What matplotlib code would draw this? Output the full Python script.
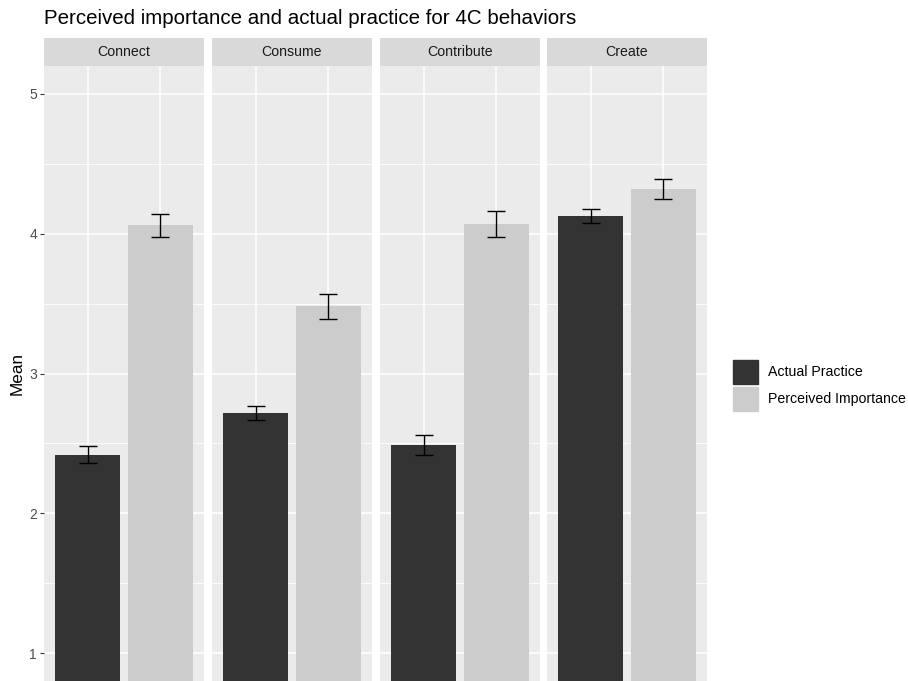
import numpy as np
import matplotlib.pyplot as plt

plt.rcParams['font.family'] = ['Liberation Sans', 'DejaVu Sans']

behaviors = ["Connect", "Consume", "Contribute", "Create"]
groups = ["Actual Practice", "Perceived Importance"]
practice_mean = [2.42, 2.72, 2.49, 4.13]
practice_se = [0.06, 0.05, 0.07, 0.05]
importance_mean = [4.06, 3.48, 4.07, 4.32]
importance_se = [0.08, 0.09, 0.09, 0.075]

colors = ["#333333", "#CCCCCC"]
W, H = 908, 681
fig = plt.figure(figsize=(W / 100, H / 100), dpi=100)

panel_left = [44, 212, 380, 547]
panel_w = 160
panel_top, panel_bottom = 66, 681
strip_top = 38

for i, name in enumerate(behaviors):
    x0 = panel_left[i]
    ax = fig.add_axes([x0 / W, 1 - panel_bottom / H, panel_w / W, (panel_bottom - panel_top) / H])
    ax.set_facecolor("#EBEBEB")
    ax.set_xlim(0.4, 2.6)
    ax.set_ylim(0.8, 5.2)
    for y in np.arange(1.5, 5.0, 1.0):
        ax.axhline(y, color="white", lw=0.6, zorder=0)
    for y in range(1, 6):
        ax.axhline(y, color="white", lw=1.1, zorder=0)
    for x in (1, 2):
        ax.axvline(x, color="white", lw=1.1, zorder=0)
    means = [practice_mean[i], importance_mean[i]]
    ses = [practice_se[i], importance_se[i]]
    ax.bar([1, 2], means, width=0.9, color=colors, zorder=2)
    ax.errorbar([1, 2], means, yerr=ses, fmt="none", ecolor="black",
                elinewidth=1.0, capsize=6.8, capthick=1.0, zorder=3)
    for s in ax.spines.values():
        s.set_visible(False)
    ax.set_xticks([])
    ax.set_yticks([1, 2, 3, 4, 5])
    if i == 0:
        ax.tick_params(axis="y", length=3, width=0.8, color="#333333",
                       labelcolor="#4D4D4D", labelsize=10, pad=2)
        ax.set_ylabel("Mean", fontsize=12.3, labelpad=3)
    else:
        ax.tick_params(axis="y", length=0, labelleft=False)

    # facet strip
    sax = fig.add_axes([x0 / W, 1 - panel_top / H, panel_w / W, (panel_top - strip_top) / H])
    sax.set_facecolor("#D9D9D9")
    sax.set_xticks([])
    sax.set_yticks([])
    for s in sax.spines.values():
        s.set_visible(False)
    sax.text(0.5, 0.5, name, ha="center", va="center", fontsize=10.2, color="#1A1A1A")

fig.text(44 / W, 1 - 18 / H, "Perceived importance and actual practice for 4C behaviors",
         ha="left", va="center", fontsize=14.8, color="black")

# legend
for j, g in enumerate(groups):
    ky = 360 + j * 27
    fig.patches.append(plt.Rectangle((733 / W, 1 - (ky + 24) / H), 25 / W, 24 / H,
                                     transform=fig.transFigure, color=colors[j]))
    fig.text(768 / W, 1 - (ky + 12) / H, g, ha="left", va="center", fontsize=10.2)

fig.savefig("out.png", dpi=100)
